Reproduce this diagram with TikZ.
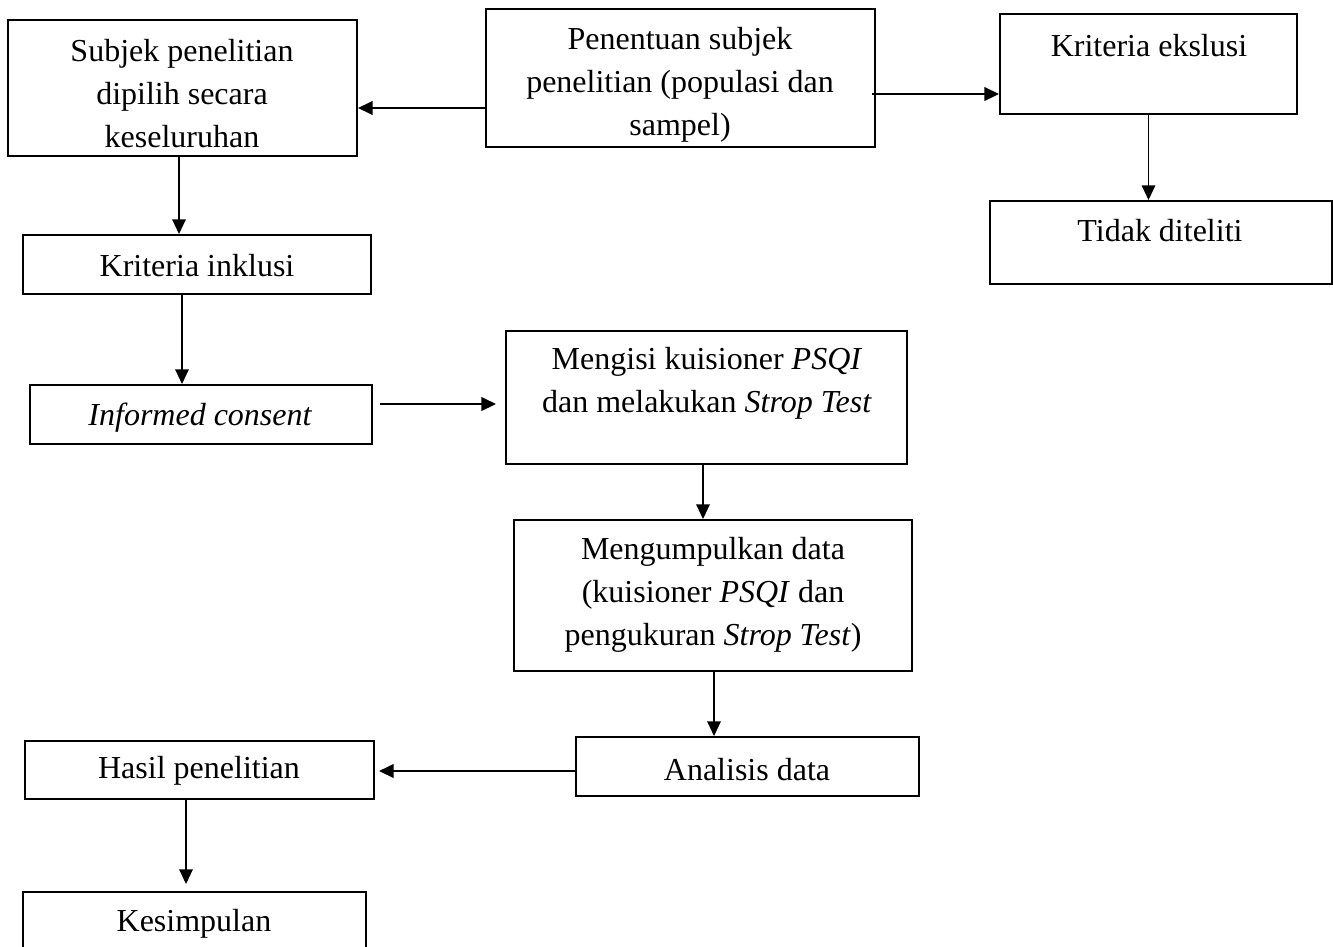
\documentclass[tikz,border=0pt]{standalone}
\usepackage{fontspec}
\setmainfont{Liberation Serif}
\usetikzlibrary{arrows.meta,fit,calc}
\begin{document}
\begin{tikzpicture}[x=0.75pt,y=-0.75pt,
  box/.style={draw, line width=1.4pt, inner sep=0pt},
  txt/.style={inner sep=0pt, align=center, font=\fontsize{24pt}{32.25pt}\selectfont},
  arr/.style={line width=1.4pt, -{Triangle[length=11pt,width=10pt]}},
  arrthick/.style={line width=2.2pt, -{Triangle[length=11pt,width=10pt]}}]
\clip (0,0) rectangle (1333,946);
\fill[white] (0,0) rectangle (1333,946);
% boxes
\node[box, fit={(8,20) (357,156)}] (subj) {};
\node[box, fit={(486,9) (875,147)}] (pen) {};
\node[box, fit={(1000,14) (1297,114)}] (ekl) {};
\node[box, fit={(990,201) (1332,284)}] (tid) {};
\node[box, fit={(23,235) (371,294)}] (inkl) {};
\node[box, fit={(30,385) (372,444)}] (inf) {};
\node[box, fit={(506,331) (907,464)}] (meng) {};
\node[box, fit={(514,520) (912,671)}] (kump) {};
\node[box, fit={(576,737) (919,796)}] (anal) {};
\node[box, fit={(25,741) (374,799)}] (hasil) {};
\node[box, fit={(23,892) (366,975)}] (kes) {};
% texts
\node[txt] (subjT) at (182,94) {Subjek penelitian\\dipilih secara\\keseluruhan};
\node[txt] (penT) at (680,85) {Penentuan subjek\\penelitian (populasi dan\\sampel)};
\node[txt] (eklT) at (1149,46) {Kriteria ekslusi};
\node[txt] (tidT) at (1160,231) {Tidak diteliti};
\node[txt] (inklT) at (197,266) {Kriteria inklusi};
\node[txt] (infT) at (200,418) {\itshape Informed consent};
\node[txt] (mengT) at (707,383) {Mengisi kuisioner \textit{PSQI}\\dan melakukan \textit{Strop Test}};
\node[txt] (kumpT) at (713,595) {Mengumpulkan data\\(kuisioner \textit{PSQI} dan\\pengukuran \textit{Strop Test})};
\node[txt] (analT) at (747,770) {Analisis data};
\node[txt] (hasilT) at (199,771) {Hasil penelitian};
\node[txt] (kesT) at (194,924) {Kesimpulan};
% connectors
\draw[arrthick] (pen.west |- 0,108) -- (subj.east |- 0,108);
\draw[arrthick] ($(pen.east |- 0,94)+(-4,0)$) -- (ekl.west |- 0,94);
\draw[arr] (ekl.south) -- (ekl.south |- tid.north);
\draw[arr] (subj.south -| 179,0) -- (inkl.north -| 179,0);
\draw[arr] (inkl.south -| 182,0) -- (inf.north -| 182,0);
\draw[arrthick] ($(inf.east |- 0,404)+(7,0)$) -- ($(meng.west |- 0,404)+(-9,0)$);
\draw[arr] (meng.south -| 703,0) -- (kump.north -| 703,0);
\draw[arr] (kump.south -| 714,0) -- (anal.north -| 714,0);
\draw[arrthick] (anal.west |- 0,771) -- ($(hasil.east |- 0,771)+(4,0)$);
\draw[arr] (hasil.south -| 186,0) -- ($(kes.north -| 186,0)+(0,-7)$);
\end{tikzpicture}
\end{document}
